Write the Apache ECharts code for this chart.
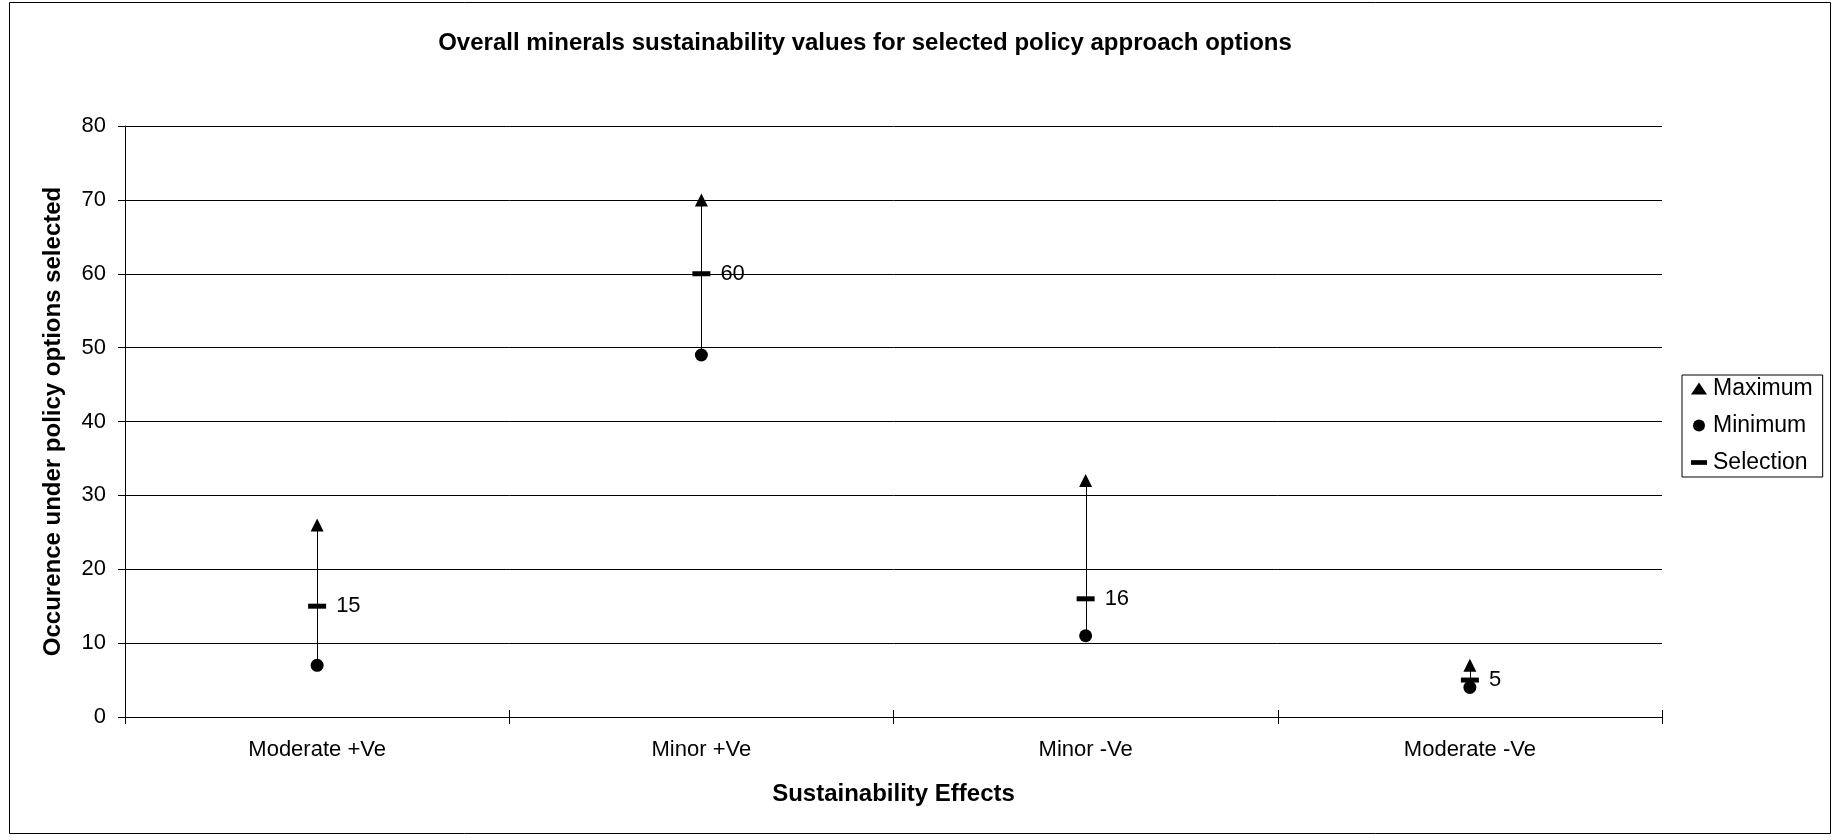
<!DOCTYPE html>
<html>
<head>
<meta charset="utf-8">
<script src="https://cdn.jsdelivr.net/npm/echarts@6/dist/echarts.min.js"></script>
<style>
  html, body { margin: 0; padding: 0; background: #fff; }
  #chart { width: 1836px; height: 840px; }
</style>
</head>
<body>
<div id="chart"></div>
<script>
// Sustainability effect categories
const categories = ['Moderate +Ve', 'Minor +Ve', 'Minor -Ve', 'Moderate -Ve'];
// Occurrence range across policy options, and the chosen selection
const maximumValues = [26, 70, 32, 7];
const minimumValues = [7, 49, 11, 4];
const selectionValues = [15, 60, 16, 5];
// Value axis ticks
const yTicks = [0, 10, 20, 30, 40, 50, 60, 70, 80];

const FONT = '"Liberation Sans", Arial, sans-serif';
const chart = echarts.init(document.getElementById('chart'), null, { renderer: 'canvas' });

const grid = { left: 125, right: 174, top: 126, bottom: 123 };

const option = {
  animation: false,
  backgroundColor: '#ffffff',
  textStyle: { fontFamily: FONT, color: '#000' },
  title: {
    text: 'Overall minerals sustainability values for selected policy approach options',
    left: 860,
    top: 26,
    textAlign: 'center',
    textStyle: { fontFamily: FONT, fontSize: 24, fontWeight: 'bold', color: '#000' }
  },
  graphic: [{
    type: 'rect',
    shape: { x: 9.5, y: 2.5, width: 1821, height: 831 },
    style: { fill: 'none', stroke: '#000', lineWidth: 1 },
    silent: true,
    z: -1
  }],
  legend: {
    orient: 'vertical',
    left: 1682,
    top: 375,
    padding: [2, 10, 3, 9],
    itemGap: 14,
    itemWidth: 16,
    itemHeight: 12,
    symbolKeepAspect: true,
    borderColor: '#000',
    borderWidth: 1,
    textStyle: { fontFamily: FONT, fontSize: 23, color: '#000', padding: [0, 0, 0, 1] },
    data: [
      { name: 'Maximum', icon: 'triangle' },
      { name: 'Minimum', icon: 'circle' },
      { name: 'Selection', icon: 'path://M0,0 L17,0 L17,5 L0,5 Z' }
    ]
  },
  grid: grid,
  xAxis: [{
    type: 'category',
    data: categories,
    boundaryGap: true,
    name: 'Sustainability Effects',
    nameLocation: 'middle',
    nameGap: 65,
    nameTextStyle: { fontFamily: FONT, fontSize: 24, fontWeight: 'bold', color: '#000' },
    axisLine: { lineStyle: { color: '#000', width: 1 } },
    axisTick: { show: true, length: 7, lineStyle: { color: '#000' } },
    axisLabel: { fontFamily: FONT, fontSize: 22, color: '#000', margin: 22 },
    splitLine: { show: false }
  }, {
    // inner half of the cross tick marks on the category axis
    type: 'category',
    data: categories,
    position: 'bottom',
    boundaryGap: true,
    axisLine: { show: false },
    axisTick: { show: true, inside: true, length: 7, lineStyle: { color: '#000' } },
    axisLabel: { show: false },
    splitLine: { show: false }
  }],
  yAxis: {
    type: 'value',
    min: yTicks[0],
    max: yTicks[yTicks.length - 1],
    interval: yTicks[1] - yTicks[0],
    name: 'Occurence under policy options selected',
    nameLocation: 'middle',
    nameGap: 60,
    nameTextStyle: { fontFamily: FONT, fontSize: 24, fontWeight: 'bold', color: '#000' },
    axisLine: { show: true, lineStyle: { color: '#000', width: 1 } },
    axisTick: { show: true, length: 7, lineStyle: { color: '#000' } },
    axisLabel: { fontFamily: FONT, fontSize: 22, color: '#000', margin: 19 },
    splitLine: { show: true, lineStyle: { color: '#000', width: 1 } }
  },
  series: [
    {
      // high-low line joining minimum and maximum for each category
      name: 'Range',
      type: 'custom',
      silent: true,
      data: categories.map((c, i) => [i, minimumValues[i], maximumValues[i]]),
      encode: { x: 0, y: [1, 2] },
      renderItem: function (params, api) {
        const lo = api.coord([api.value(0), api.value(1)]);
        const hi = api.coord([api.value(0), api.value(2)]);
        return {
          type: 'line',
          shape: { x1: Math.round(lo[0]) + 0.5, y1: lo[1], x2: Math.round(hi[0]) + 0.5, y2: hi[1] },
          style: { stroke: '#000', lineWidth: 1 }
        };
      },
      z: 1
    },
    {
      name: 'Maximum',
      type: 'scatter',
      symbol: 'triangle',
      symbolSize: 13,
      itemStyle: { color: '#000', opacity: 1 },
      data: maximumValues,
      z: 3
    },
    {
      name: 'Minimum',
      type: 'scatter',
      symbol: 'circle',
      symbolSize: 13,
      itemStyle: { color: '#000', opacity: 1 },
      data: minimumValues,
      z: 3
    },
    {
      name: 'Selection',
      type: 'scatter',
      symbol: 'rect',
      symbolSize: [18, 5],
      itemStyle: { color: '#000', opacity: 1 },
      data: selectionValues,
      label: {
        show: true,
        position: 'right',
        distance: 10,
        fontFamily: FONT,
        fontSize: 22,
        color: '#000',
        opacity: 1,
        formatter: p => String(p.value)
      },
      z: 4
    }
  ]
};

chart.setOption(option);
</script>
</body>
</html>
